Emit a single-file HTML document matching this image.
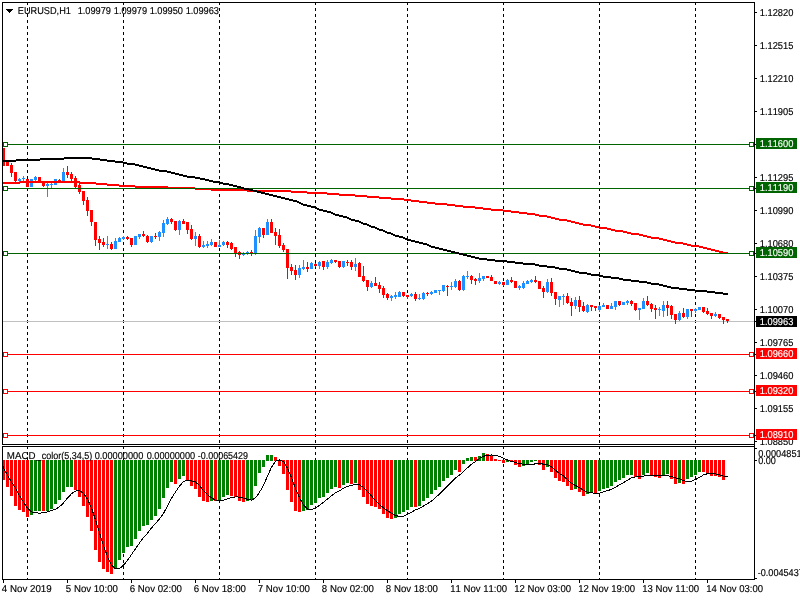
<!DOCTYPE html>
<html><head><meta charset="utf-8"><title>EURUSD,H1</title>
<style>
html,body{margin:0;padding:0;background:#fff;}
body{width:800px;height:600px;overflow:hidden;}
svg{display:block;}
text{font-family:"Liberation Sans",sans-serif;font-size:10px;font-kerning:none;text-rendering:geometricPrecision;stroke:#000;stroke-width:0.15px;fill:#000;}
.w{fill:#fff;stroke:#fff;}
</style></head><body>
<svg width="800" height="600" viewBox="0 0 800 600" shape-rendering="crispEdges">
<rect x="0" y="0" width="800" height="600" fill="#fff"/>
<g stroke="#000" stroke-width="1" stroke-dasharray="3,3">
<line x1="27.5" y1="2" x2="27.5" y2="444"/>
<line x1="27.5" y1="446" x2="27.5" y2="579"/>
<line x1="123.5" y1="2" x2="123.5" y2="444"/>
<line x1="123.5" y1="446" x2="123.5" y2="579"/>
<line x1="219.5" y1="2" x2="219.5" y2="444"/>
<line x1="219.5" y1="446" x2="219.5" y2="579"/>
<line x1="315.5" y1="2" x2="315.5" y2="444"/>
<line x1="315.5" y1="446" x2="315.5" y2="579"/>
<line x1="407.5" y1="2" x2="407.5" y2="444"/>
<line x1="407.5" y1="446" x2="407.5" y2="579"/>
<line x1="503.5" y1="2" x2="503.5" y2="444"/>
<line x1="503.5" y1="446" x2="503.5" y2="579"/>
<line x1="599.5" y1="2" x2="599.5" y2="444"/>
<line x1="599.5" y1="446" x2="599.5" y2="579"/>
<line x1="695.5" y1="2" x2="695.5" y2="444"/>
<line x1="695.5" y1="446" x2="695.5" y2="579"/>
</g>
<rect x="3" y="321" width="752" height="1" fill="#c0c0c0"/>
<g>
<rect x="3" y="148" width="2" height="18" fill="#ff0000"/>
<rect x="6" y="161" width="3" height="5" fill="#ff0000"/>
<rect x="11" y="163" width="1" height="14" fill="#ff0000"/><rect x="10" y="165" width="3" height="8" fill="#ff0000"/>
<rect x="15" y="172" width="1" height="10" fill="#ff0000"/><rect x="14" y="172" width="3" height="9" fill="#ff0000"/>
<rect x="19" y="178" width="1" height="4" fill="#1e90ff"/><rect x="18" y="179" width="3" height="2" fill="#1e90ff"/>
<rect x="23" y="176" width="1" height="5" fill="#1e90ff"/><rect x="22" y="178" width="3" height="1" fill="#1e90ff"/>
<rect x="26" y="179" width="3" height="8" fill="#ff0000"/>
<rect x="30" y="179" width="3" height="8" fill="#1e90ff"/>
<rect x="35" y="176" width="1" height="5" fill="#1e90ff"/><rect x="34" y="177" width="3" height="3" fill="#1e90ff"/>
<rect x="38" y="177" width="3" height="5" fill="#ff0000"/>
<rect x="43" y="181" width="1" height="6" fill="#ff0000"/><rect x="42" y="181" width="3" height="5" fill="#ff0000"/>
<rect x="47" y="183" width="1" height="14" fill="#1e90ff"/><rect x="46" y="184" width="3" height="2" fill="#1e90ff"/>
<rect x="51" y="183" width="1" height="5" fill="#1e90ff"/><rect x="50" y="184" width="3" height="1" fill="#1e90ff"/>
<rect x="54" y="179" width="3" height="6" fill="#1e90ff"/>
<rect x="59" y="179" width="1" height="3" fill="#ff0000"/><rect x="58" y="180" width="3" height="2" fill="#ff0000"/>
<rect x="63" y="168" width="1" height="13" fill="#1e90ff"/><rect x="62" y="172" width="3" height="9" fill="#1e90ff"/>
<rect x="67" y="166" width="1" height="12" fill="#ff0000"/><rect x="66" y="172" width="3" height="3" fill="#ff0000"/>
<rect x="71" y="172" width="1" height="11" fill="#ff0000"/><rect x="70" y="174" width="3" height="5" fill="#ff0000"/>
<rect x="75" y="176" width="1" height="12" fill="#ff0000"/><rect x="74" y="178" width="3" height="9" fill="#ff0000"/>
<rect x="79" y="182" width="1" height="12" fill="#ff0000"/><rect x="78" y="185" width="3" height="7" fill="#ff0000"/>
<rect x="83" y="191" width="1" height="14" fill="#ff0000"/><rect x="82" y="191" width="3" height="10" fill="#ff0000"/>
<rect x="87" y="197" width="1" height="19" fill="#ff0000"/><rect x="86" y="200" width="3" height="11" fill="#ff0000"/>
<rect x="91" y="210" width="1" height="16" fill="#ff0000"/><rect x="90" y="210" width="3" height="12" fill="#ff0000"/>
<rect x="95" y="222" width="1" height="24" fill="#ff0000"/><rect x="94" y="222" width="3" height="18" fill="#ff0000"/>
<rect x="99" y="236" width="1" height="14" fill="#ff0000"/><rect x="98" y="239" width="3" height="4" fill="#ff0000"/>
<rect x="103" y="238" width="1" height="9" fill="#ff0000"/><rect x="102" y="242" width="3" height="3" fill="#ff0000"/>
<rect x="107" y="236" width="1" height="13" fill="#1e90ff"/><rect x="106" y="244" width="3" height="1" fill="#1e90ff"/>
<rect x="111" y="242" width="1" height="8" fill="#ff0000"/><rect x="110" y="244" width="3" height="5" fill="#ff0000"/>
<rect x="115" y="238" width="1" height="11" fill="#1e90ff"/><rect x="114" y="241" width="3" height="8" fill="#1e90ff"/>
<rect x="119" y="237" width="1" height="5" fill="#1e90ff"/><rect x="118" y="238" width="3" height="4" fill="#1e90ff"/>
<rect x="123" y="236" width="1" height="4" fill="#1e90ff"/><rect x="122" y="237" width="3" height="2" fill="#1e90ff"/>
<rect x="127" y="236" width="1" height="4" fill="#ff0000"/><rect x="126" y="237" width="3" height="2" fill="#ff0000"/>
<rect x="131" y="238" width="1" height="9" fill="#ff0000"/><rect x="130" y="238" width="3" height="7" fill="#ff0000"/>
<rect x="134" y="236" width="3" height="9" fill="#1e90ff"/>
<rect x="139" y="234" width="1" height="5" fill="#1e90ff"/><rect x="138" y="234" width="3" height="3" fill="#1e90ff"/>
<rect x="143" y="231" width="1" height="6" fill="#ff0000"/><rect x="142" y="234" width="3" height="2" fill="#ff0000"/>
<rect x="147" y="235" width="1" height="8" fill="#ff0000"/><rect x="146" y="236" width="3" height="6" fill="#ff0000"/>
<rect x="151" y="236" width="1" height="7" fill="#1e90ff"/><rect x="150" y="236" width="3" height="6" fill="#1e90ff"/>
<rect x="155" y="233" width="1" height="6" fill="#ff0000"/><rect x="154" y="236" width="3" height="1" fill="#ff0000"/>
<rect x="159" y="231" width="1" height="10" fill="#1e90ff"/><rect x="158" y="232" width="3" height="5" fill="#1e90ff"/>
<rect x="163" y="220" width="1" height="17" fill="#1e90ff"/><rect x="162" y="223" width="3" height="10" fill="#1e90ff"/>
<rect x="167" y="217" width="1" height="8" fill="#1e90ff"/><rect x="166" y="219" width="3" height="5" fill="#1e90ff"/>
<rect x="171" y="218" width="1" height="6" fill="#ff0000"/><rect x="170" y="219" width="3" height="3" fill="#ff0000"/>
<rect x="175" y="221" width="1" height="10" fill="#ff0000"/><rect x="174" y="221" width="3" height="9" fill="#ff0000"/>
<rect x="179" y="220" width="1" height="15" fill="#1e90ff"/><rect x="178" y="221" width="3" height="9" fill="#1e90ff"/>
<rect x="183" y="219" width="1" height="5" fill="#ff0000"/><rect x="182" y="221" width="3" height="3" fill="#ff0000"/>
<rect x="187" y="222" width="1" height="12" fill="#ff0000"/><rect x="186" y="222" width="3" height="8" fill="#ff0000"/>
<rect x="191" y="225" width="1" height="15" fill="#ff0000"/><rect x="190" y="229" width="3" height="10" fill="#ff0000"/>
<rect x="195" y="232" width="1" height="14" fill="#1e90ff"/><rect x="194" y="236" width="3" height="3" fill="#1e90ff"/>
<rect x="199" y="234" width="1" height="14" fill="#ff0000"/><rect x="198" y="236" width="3" height="11" fill="#ff0000"/>
<rect x="203" y="241" width="1" height="7" fill="#1e90ff"/><rect x="202" y="245" width="3" height="2" fill="#1e90ff"/>
<rect x="207" y="241" width="1" height="7" fill="#1e90ff"/><rect x="206" y="244" width="3" height="2" fill="#1e90ff"/>
<rect x="211" y="239" width="1" height="7" fill="#1e90ff"/><rect x="210" y="242" width="3" height="3" fill="#1e90ff"/>
<rect x="214" y="242" width="3" height="5" fill="#ff0000"/>
<rect x="219" y="240" width="1" height="7" fill="#1e90ff"/><rect x="218" y="245" width="3" height="2" fill="#1e90ff"/>
<rect x="223" y="241" width="1" height="5" fill="#1e90ff"/><rect x="222" y="242" width="3" height="3" fill="#1e90ff"/>
<rect x="227" y="241" width="1" height="7" fill="#ff0000"/><rect x="226" y="242" width="3" height="3" fill="#ff0000"/>
<rect x="231" y="242" width="1" height="8" fill="#ff0000"/><rect x="230" y="243" width="3" height="6" fill="#ff0000"/>
<rect x="235" y="247" width="1" height="10" fill="#ff0000"/><rect x="234" y="247" width="3" height="6" fill="#ff0000"/>
<rect x="239" y="251" width="1" height="8" fill="#ff0000"/><rect x="238" y="252" width="3" height="3" fill="#ff0000"/>
<rect x="243" y="252" width="1" height="4" fill="#1e90ff"/><rect x="242" y="253" width="3" height="2" fill="#1e90ff"/>
<rect x="247" y="251" width="1" height="4" fill="#1e90ff"/><rect x="246" y="252" width="3" height="2" fill="#1e90ff"/>
<rect x="251" y="250" width="1" height="6" fill="#ff0000"/><rect x="250" y="252" width="3" height="1" fill="#ff0000"/>
<rect x="255" y="230" width="1" height="25" fill="#1e90ff"/><rect x="254" y="236" width="3" height="18" fill="#1e90ff"/>
<rect x="259" y="227" width="1" height="16" fill="#1e90ff"/><rect x="258" y="228" width="3" height="9" fill="#1e90ff"/>
<rect x="263" y="228" width="1" height="10" fill="#ff0000"/><rect x="262" y="228" width="3" height="7" fill="#ff0000"/>
<rect x="267" y="219" width="1" height="16" fill="#1e90ff"/><rect x="266" y="222" width="3" height="13" fill="#1e90ff"/>
<rect x="271" y="219" width="1" height="14" fill="#ff0000"/><rect x="270" y="222" width="3" height="11" fill="#ff0000"/>
<rect x="275" y="228" width="1" height="17" fill="#ff0000"/><rect x="274" y="232" width="3" height="4" fill="#ff0000"/>
<rect x="279" y="229" width="1" height="19" fill="#ff0000"/><rect x="278" y="235" width="3" height="11" fill="#ff0000"/>
<rect x="283" y="243" width="1" height="9" fill="#ff0000"/><rect x="282" y="245" width="3" height="5" fill="#ff0000"/>
<rect x="287" y="249" width="1" height="30" fill="#ff0000"/><rect x="286" y="249" width="3" height="19" fill="#ff0000"/>
<rect x="291" y="264" width="1" height="11" fill="#ff0000"/><rect x="290" y="267" width="3" height="4" fill="#ff0000"/>
<rect x="295" y="265" width="1" height="15" fill="#ff0000"/><rect x="294" y="270" width="3" height="5" fill="#ff0000"/>
<rect x="299" y="265" width="1" height="13" fill="#1e90ff"/><rect x="298" y="268" width="3" height="7" fill="#1e90ff"/>
<rect x="303" y="260" width="1" height="10" fill="#1e90ff"/><rect x="302" y="267" width="3" height="2" fill="#1e90ff"/>
<rect x="307" y="262" width="1" height="10" fill="#ff0000"/><rect x="306" y="267" width="3" height="2" fill="#ff0000"/>
<rect x="311" y="262" width="1" height="7" fill="#1e90ff"/><rect x="310" y="263" width="3" height="6" fill="#1e90ff"/>
<rect x="315" y="263" width="1" height="4" fill="#ff0000"/><rect x="314" y="264" width="3" height="2" fill="#ff0000"/>
<rect x="319" y="261" width="1" height="8" fill="#1e90ff"/><rect x="318" y="262" width="3" height="4" fill="#1e90ff"/>
<rect x="323" y="261" width="1" height="9" fill="#ff0000"/><rect x="322" y="261" width="3" height="6" fill="#ff0000"/>
<rect x="327" y="260" width="1" height="9" fill="#1e90ff"/><rect x="326" y="262" width="3" height="5" fill="#1e90ff"/>
<rect x="331" y="259" width="1" height="5" fill="#1e90ff"/><rect x="330" y="260" width="3" height="3" fill="#1e90ff"/>
<rect x="335" y="260" width="1" height="3" fill="#ff0000"/><rect x="334" y="260" width="3" height="2" fill="#ff0000"/>
<rect x="339" y="261" width="1" height="7" fill="#ff0000"/><rect x="338" y="261" width="3" height="6" fill="#ff0000"/>
<rect x="343" y="261" width="1" height="7" fill="#1e90ff"/><rect x="342" y="261" width="3" height="6" fill="#1e90ff"/>
<rect x="347" y="260" width="1" height="6" fill="#ff0000"/><rect x="346" y="262" width="3" height="1" fill="#ff0000"/>
<rect x="351" y="260" width="1" height="10" fill="#ff0000"/><rect x="350" y="262" width="3" height="5" fill="#ff0000"/>
<rect x="355" y="258" width="1" height="13" fill="#1e90ff"/><rect x="354" y="264" width="3" height="3" fill="#1e90ff"/>
<rect x="359" y="262" width="1" height="15" fill="#ff0000"/><rect x="358" y="263" width="3" height="14" fill="#ff0000"/>
<rect x="363" y="266" width="1" height="16" fill="#ff0000"/><rect x="362" y="276" width="3" height="5" fill="#ff0000"/>
<rect x="367" y="280" width="1" height="11" fill="#ff0000"/><rect x="366" y="280" width="3" height="7" fill="#ff0000"/>
<rect x="371" y="281" width="1" height="7" fill="#1e90ff"/><rect x="370" y="283" width="3" height="4" fill="#1e90ff"/>
<rect x="375" y="277" width="1" height="9" fill="#ff0000"/><rect x="374" y="283" width="3" height="3" fill="#ff0000"/>
<rect x="379" y="282" width="1" height="11" fill="#ff0000"/><rect x="378" y="285" width="3" height="4" fill="#ff0000"/>
<rect x="383" y="286" width="1" height="12" fill="#ff0000"/><rect x="382" y="288" width="3" height="7" fill="#ff0000"/>
<rect x="387" y="293" width="1" height="7" fill="#ff0000"/><rect x="386" y="294" width="3" height="4" fill="#ff0000"/>
<rect x="391" y="295" width="1" height="6" fill="#1e90ff"/><rect x="390" y="296" width="3" height="2" fill="#1e90ff"/>
<rect x="395" y="292" width="1" height="7" fill="#1e90ff"/><rect x="394" y="295" width="3" height="2" fill="#1e90ff"/>
<rect x="399" y="291" width="1" height="6" fill="#1e90ff"/><rect x="398" y="292" width="3" height="5" fill="#1e90ff"/>
<rect x="403" y="292" width="1" height="5" fill="#ff0000"/><rect x="402" y="292" width="3" height="4" fill="#ff0000"/>
<rect x="407" y="295" width="1" height="4" fill="#ff0000"/><rect x="406" y="295" width="3" height="2" fill="#ff0000"/>
<rect x="411" y="293" width="1" height="4" fill="#1e90ff"/><rect x="410" y="294" width="3" height="2" fill="#1e90ff"/>
<rect x="415" y="292" width="1" height="9" fill="#ff0000"/><rect x="414" y="294" width="3" height="5" fill="#ff0000"/>
<rect x="419" y="294" width="1" height="6" fill="#1e90ff"/><rect x="418" y="298" width="3" height="1" fill="#1e90ff"/>
<rect x="423" y="292" width="1" height="8" fill="#1e90ff"/><rect x="422" y="293" width="3" height="6" fill="#1e90ff"/>
<rect x="427" y="292" width="1" height="4" fill="#ff0000"/><rect x="426" y="293" width="3" height="1" fill="#ff0000"/>
<rect x="431" y="291" width="1" height="4" fill="#1e90ff"/><rect x="430" y="292" width="3" height="2" fill="#1e90ff"/>
<rect x="434" y="290" width="3" height="3" fill="#1e90ff"/>
<rect x="439" y="290" width="1" height="5" fill="#1e90ff"/><rect x="438" y="290" width="3" height="1" fill="#1e90ff"/>
<rect x="443" y="285" width="1" height="7" fill="#1e90ff"/><rect x="442" y="285" width="3" height="6" fill="#1e90ff"/>
<rect x="447" y="285" width="1" height="11" fill="#ff0000"/><rect x="446" y="286" width="3" height="1" fill="#ff0000"/>
<rect x="451" y="282" width="1" height="8" fill="#1e90ff"/><rect x="450" y="286" width="3" height="1" fill="#1e90ff"/>
<rect x="455" y="279" width="1" height="9" fill="#1e90ff"/><rect x="454" y="281" width="3" height="6" fill="#1e90ff"/>
<rect x="459" y="280" width="1" height="11" fill="#ff0000"/><rect x="458" y="281" width="3" height="9" fill="#ff0000"/>
<rect x="463" y="275" width="1" height="16" fill="#1e90ff"/><rect x="462" y="276" width="3" height="14" fill="#1e90ff"/>
<rect x="467" y="271" width="1" height="8" fill="#1e90ff"/><rect x="466" y="276" width="3" height="1" fill="#1e90ff"/>
<rect x="471" y="275" width="1" height="9" fill="#ff0000"/><rect x="470" y="276" width="3" height="4" fill="#ff0000"/>
<rect x="475" y="278" width="1" height="7" fill="#ff0000"/><rect x="474" y="279" width="3" height="2" fill="#ff0000"/>
<rect x="479" y="273" width="1" height="10" fill="#1e90ff"/><rect x="478" y="278" width="3" height="3" fill="#1e90ff"/>
<rect x="483" y="276" width="1" height="5" fill="#1e90ff"/><rect x="482" y="276" width="3" height="3" fill="#1e90ff"/>
<rect x="486" y="276" width="3" height="2" fill="#ff0000"/>
<rect x="491" y="275" width="1" height="6" fill="#ff0000"/><rect x="490" y="277" width="3" height="4" fill="#ff0000"/>
<rect x="494" y="281" width="3" height="3" fill="#ff0000"/>
<rect x="499" y="281" width="1" height="4" fill="#1e90ff"/><rect x="498" y="282" width="3" height="2" fill="#1e90ff"/>
<rect x="503" y="282" width="1" height="4" fill="#ff0000"/><rect x="502" y="282" width="3" height="3" fill="#ff0000"/>
<rect x="507" y="279" width="1" height="6" fill="#1e90ff"/><rect x="506" y="280" width="3" height="5" fill="#1e90ff"/>
<rect x="511" y="277" width="1" height="6" fill="#ff0000"/><rect x="510" y="280" width="3" height="2" fill="#ff0000"/>
<rect x="514" y="281" width="3" height="7" fill="#ff0000"/>
<rect x="519" y="285" width="1" height="5" fill="#1e90ff"/><rect x="518" y="286" width="3" height="2" fill="#1e90ff"/>
<rect x="523" y="281" width="1" height="8" fill="#1e90ff"/><rect x="522" y="283" width="3" height="5" fill="#1e90ff"/>
<rect x="527" y="280" width="1" height="4" fill="#1e90ff"/><rect x="526" y="281" width="3" height="3" fill="#1e90ff"/>
<rect x="531" y="279" width="1" height="4" fill="#1e90ff"/><rect x="530" y="280" width="3" height="2" fill="#1e90ff"/>
<rect x="535" y="276" width="1" height="7" fill="#ff0000"/><rect x="534" y="280" width="3" height="2" fill="#ff0000"/>
<rect x="538" y="281" width="3" height="8" fill="#ff0000"/>
<rect x="543" y="286" width="1" height="12" fill="#ff0000"/><rect x="542" y="288" width="3" height="4" fill="#ff0000"/>
<rect x="547" y="279" width="1" height="14" fill="#1e90ff"/><rect x="546" y="282" width="3" height="10" fill="#1e90ff"/>
<rect x="551" y="278" width="1" height="18" fill="#ff0000"/><rect x="550" y="282" width="3" height="11" fill="#ff0000"/>
<rect x="555" y="292" width="1" height="13" fill="#ff0000"/><rect x="554" y="292" width="3" height="7" fill="#ff0000"/>
<rect x="559" y="296" width="1" height="11" fill="#1e90ff"/><rect x="558" y="296" width="3" height="4" fill="#1e90ff"/>
<rect x="563" y="294" width="1" height="11" fill="#1e90ff"/><rect x="562" y="296" width="3" height="1" fill="#1e90ff"/>
<rect x="567" y="293" width="1" height="11" fill="#ff0000"/><rect x="566" y="296" width="3" height="7" fill="#ff0000"/>
<rect x="571" y="298" width="1" height="18" fill="#ff0000"/><rect x="570" y="302" width="3" height="4" fill="#ff0000"/>
<rect x="575" y="297" width="1" height="12" fill="#1e90ff"/><rect x="574" y="300" width="3" height="6" fill="#1e90ff"/>
<rect x="579" y="296" width="1" height="16" fill="#ff0000"/><rect x="578" y="300" width="3" height="7" fill="#ff0000"/>
<rect x="583" y="302" width="1" height="10" fill="#ff0000"/><rect x="582" y="306" width="3" height="5" fill="#ff0000"/>
<rect x="587" y="304" width="1" height="9" fill="#1e90ff"/><rect x="586" y="305" width="3" height="7" fill="#1e90ff"/>
<rect x="591" y="305" width="1" height="6" fill="#ff0000"/><rect x="590" y="305" width="3" height="2" fill="#ff0000"/>
<rect x="595" y="306" width="1" height="5" fill="#ff0000"/><rect x="594" y="306" width="3" height="2" fill="#ff0000"/>
<rect x="599" y="305" width="1" height="7" fill="#1e90ff"/><rect x="598" y="306" width="3" height="4" fill="#1e90ff"/>
<rect x="603" y="303" width="1" height="4" fill="#1e90ff"/><rect x="602" y="305" width="3" height="2" fill="#1e90ff"/>
<rect x="606" y="305" width="3" height="4" fill="#ff0000"/>
<rect x="611" y="303" width="1" height="6" fill="#1e90ff"/><rect x="610" y="306" width="3" height="3" fill="#1e90ff"/>
<rect x="615" y="301" width="1" height="9" fill="#1e90ff"/><rect x="614" y="301" width="3" height="6" fill="#1e90ff"/>
<rect x="619" y="301" width="1" height="5" fill="#ff0000"/><rect x="618" y="301" width="3" height="4" fill="#ff0000"/>
<rect x="622" y="302" width="3" height="3" fill="#1e90ff"/>
<rect x="627" y="300" width="1" height="5" fill="#1e90ff"/><rect x="626" y="301" width="3" height="2" fill="#1e90ff"/>
<rect x="631" y="300" width="1" height="6" fill="#ff0000"/><rect x="630" y="301" width="3" height="3" fill="#ff0000"/>
<rect x="635" y="303" width="1" height="8" fill="#ff0000"/><rect x="634" y="303" width="3" height="7" fill="#ff0000"/>
<rect x="639" y="308" width="1" height="12" fill="#1e90ff"/><rect x="638" y="308" width="3" height="2" fill="#1e90ff"/>
<rect x="643" y="298" width="1" height="11" fill="#1e90ff"/><rect x="642" y="301" width="3" height="8" fill="#1e90ff"/>
<rect x="647" y="296" width="1" height="10" fill="#ff0000"/><rect x="646" y="301" width="3" height="4" fill="#ff0000"/>
<rect x="651" y="303" width="1" height="9" fill="#ff0000"/><rect x="650" y="304" width="3" height="5" fill="#ff0000"/>
<rect x="655" y="305" width="1" height="14" fill="#ff0000"/><rect x="654" y="308" width="3" height="2" fill="#ff0000"/>
<rect x="659" y="307" width="1" height="9" fill="#1e90ff"/><rect x="658" y="309" width="3" height="1" fill="#1e90ff"/>
<rect x="663" y="301" width="1" height="16" fill="#1e90ff"/><rect x="662" y="305" width="3" height="6" fill="#1e90ff"/>
<rect x="667" y="301" width="1" height="15" fill="#ff0000"/><rect x="666" y="305" width="3" height="3" fill="#ff0000"/>
<rect x="671" y="305" width="1" height="14" fill="#ff0000"/><rect x="670" y="306" width="3" height="9" fill="#ff0000"/>
<rect x="675" y="314" width="1" height="10" fill="#ff0000"/><rect x="674" y="314" width="3" height="6" fill="#ff0000"/>
<rect x="679" y="311" width="1" height="10" fill="#1e90ff"/><rect x="678" y="313" width="3" height="7" fill="#1e90ff"/>
<rect x="683" y="308" width="1" height="10" fill="#ff0000"/><rect x="682" y="313" width="3" height="4" fill="#ff0000"/>
<rect x="687" y="309" width="1" height="10" fill="#1e90ff"/><rect x="686" y="309" width="3" height="8" fill="#1e90ff"/>
<rect x="691" y="309" width="1" height="8" fill="#ff0000"/><rect x="690" y="309" width="3" height="2" fill="#ff0000"/>
<rect x="695" y="308" width="1" height="5" fill="#1e90ff"/><rect x="694" y="309" width="3" height="2" fill="#1e90ff"/>
<rect x="698" y="307" width="3" height="3" fill="#1e90ff"/>
<rect x="703" y="307" width="1" height="6" fill="#ff0000"/><rect x="702" y="307" width="3" height="5" fill="#ff0000"/>
<rect x="707" y="308" width="1" height="7" fill="#ff0000"/><rect x="706" y="311" width="3" height="3" fill="#ff0000"/>
<rect x="711" y="313" width="1" height="6" fill="#ff0000"/><rect x="710" y="313" width="3" height="3" fill="#ff0000"/>
<rect x="715" y="312" width="1" height="5" fill="#1e90ff"/><rect x="714" y="314" width="3" height="2" fill="#1e90ff"/>
<rect x="719" y="314" width="1" height="5" fill="#ff0000"/><rect x="718" y="314" width="3" height="4" fill="#ff0000"/>
<rect x="723" y="317" width="1" height="7" fill="#ff0000"/><rect x="722" y="317" width="3" height="3" fill="#ff0000"/>
<rect x="727" y="319" width="1" height="4" fill="#ff0000"/><rect x="726" y="319" width="3" height="2" fill="#ff0000"/>
</g>
<rect x="3" y="182" width="17" height="2" fill="#ff0000"/><rect x="20" y="181" width="60" height="2" fill="#ff0000"/><rect x="80" y="182" width="16" height="2" fill="#ff0000"/><rect x="96" y="183" width="11" height="2" fill="#ff0000"/><rect x="107" y="184" width="12" height="2" fill="#ff0000"/><rect x="119" y="185" width="16" height="2" fill="#ff0000"/><rect x="135" y="186" width="33" height="2" fill="#ff0000"/><rect x="168" y="187" width="27" height="2" fill="#ff0000"/><rect x="195" y="188" width="16" height="2" fill="#ff0000"/><rect x="211" y="189" width="36" height="2" fill="#ff0000"/><rect x="247" y="190" width="44" height="2" fill="#ff0000"/><rect x="291" y="191" width="16" height="2" fill="#ff0000"/><rect x="307" y="192" width="20" height="2" fill="#ff0000"/><rect x="327" y="193" width="12" height="2" fill="#ff0000"/><rect x="339" y="194" width="16" height="2" fill="#ff0000"/><rect x="355" y="195" width="12" height="2" fill="#ff0000"/><rect x="367" y="196" width="12" height="2" fill="#ff0000"/><rect x="379" y="197" width="12" height="2" fill="#ff0000"/><rect x="391" y="198" width="13" height="2" fill="#ff0000"/><rect x="404" y="199" width="7" height="2" fill="#ff0000"/><rect x="411" y="200" width="8" height="2" fill="#ff0000"/><rect x="419" y="201" width="8" height="2" fill="#ff0000"/><rect x="427" y="202" width="8" height="2" fill="#ff0000"/><rect x="435" y="203" width="12" height="2" fill="#ff0000"/><rect x="447" y="204" width="8" height="2" fill="#ff0000"/><rect x="455" y="205" width="8" height="2" fill="#ff0000"/><rect x="463" y="206" width="12" height="2" fill="#ff0000"/><rect x="475" y="207" width="8" height="2" fill="#ff0000"/><rect x="483" y="208" width="8" height="2" fill="#ff0000"/><rect x="491" y="209" width="12" height="2" fill="#ff0000"/><rect x="503" y="210" width="8" height="2" fill="#ff0000"/><rect x="511" y="211" width="8" height="2" fill="#ff0000"/><rect x="519" y="212" width="8" height="2" fill="#ff0000"/><rect x="527" y="213" width="8" height="2" fill="#ff0000"/><rect x="535" y="214" width="4" height="2" fill="#ff0000"/><rect x="539" y="215" width="8" height="2" fill="#ff0000"/><rect x="547" y="216" width="4" height="2" fill="#ff0000"/><rect x="551" y="217" width="4" height="2" fill="#ff0000"/><rect x="555" y="218" width="4" height="2" fill="#ff0000"/><rect x="559" y="219" width="8" height="2" fill="#ff0000"/><rect x="567" y="220" width="4" height="2" fill="#ff0000"/><rect x="571" y="221" width="4" height="2" fill="#ff0000"/><rect x="575" y="222" width="4" height="2" fill="#ff0000"/><rect x="579" y="223" width="4" height="2" fill="#ff0000"/><rect x="583" y="224" width="8" height="2" fill="#ff0000"/><rect x="591" y="225" width="4" height="2" fill="#ff0000"/><rect x="595" y="226" width="4" height="2" fill="#ff0000"/><rect x="599" y="227" width="8" height="2" fill="#ff0000"/><rect x="607" y="228" width="4" height="2" fill="#ff0000"/><rect x="611" y="229" width="4" height="2" fill="#ff0000"/><rect x="615" y="230" width="8" height="2" fill="#ff0000"/><rect x="623" y="231" width="4" height="2" fill="#ff0000"/><rect x="627" y="232" width="4" height="2" fill="#ff0000"/><rect x="631" y="233" width="8" height="2" fill="#ff0000"/><rect x="639" y="234" width="4" height="2" fill="#ff0000"/><rect x="643" y="235" width="4" height="2" fill="#ff0000"/><rect x="647" y="236" width="4" height="2" fill="#ff0000"/><rect x="651" y="237" width="8" height="2" fill="#ff0000"/><rect x="659" y="238" width="4" height="2" fill="#ff0000"/><rect x="663" y="239" width="4" height="2" fill="#ff0000"/><rect x="667" y="240" width="4" height="2" fill="#ff0000"/><rect x="671" y="241" width="4" height="2" fill="#ff0000"/><rect x="675" y="242" width="8" height="2" fill="#ff0000"/><rect x="683" y="243" width="4" height="2" fill="#ff0000"/><rect x="687" y="244" width="4" height="2" fill="#ff0000"/><rect x="691" y="245" width="8" height="2" fill="#ff0000"/><rect x="699" y="246" width="4" height="2" fill="#ff0000"/><rect x="703" y="247" width="4" height="2" fill="#ff0000"/><rect x="707" y="248" width="4" height="2" fill="#ff0000"/><rect x="711" y="249" width="4" height="2" fill="#ff0000"/><rect x="715" y="250" width="4" height="2" fill="#ff0000"/><rect x="719" y="251" width="4" height="2" fill="#ff0000"/><rect x="723" y="252" width="5" height="2" fill="#ff0000"/>
<rect x="3" y="144" width="751" height="1" fill="#006400"/><rect x="3" y="142" width="5" height="5" fill="#006400"/><rect x="4" y="143" width="3" height="3" fill="#fff"/><rect x="749" y="142" width="5" height="5" fill="#006400"/><rect x="750" y="143" width="3" height="3" fill="#fff"/>
<rect x="3" y="188" width="751" height="1" fill="#006400"/><rect x="3" y="186" width="5" height="5" fill="#006400"/><rect x="4" y="187" width="3" height="3" fill="#fff"/><rect x="749" y="186" width="5" height="5" fill="#006400"/><rect x="750" y="187" width="3" height="3" fill="#fff"/>
<rect x="3" y="253" width="751" height="1" fill="#006400"/><rect x="3" y="251" width="5" height="5" fill="#006400"/><rect x="4" y="252" width="3" height="3" fill="#fff"/><rect x="749" y="251" width="5" height="5" fill="#006400"/><rect x="750" y="252" width="3" height="3" fill="#fff"/>
<rect x="3" y="354" width="751" height="1" fill="#ff0000"/><rect x="3" y="352" width="5" height="5" fill="#ff0000"/><rect x="4" y="353" width="3" height="3" fill="#fff"/><rect x="749" y="352" width="5" height="5" fill="#ff0000"/><rect x="750" y="353" width="3" height="3" fill="#fff"/>
<rect x="3" y="391" width="751" height="1" fill="#ff0000"/><rect x="3" y="389" width="5" height="5" fill="#ff0000"/><rect x="4" y="390" width="3" height="3" fill="#fff"/><rect x="749" y="389" width="5" height="5" fill="#ff0000"/><rect x="750" y="390" width="3" height="3" fill="#fff"/>
<rect x="3" y="435" width="751" height="1" fill="#ff0000"/><rect x="3" y="433" width="5" height="5" fill="#ff0000"/><rect x="4" y="434" width="3" height="3" fill="#fff"/><rect x="749" y="433" width="5" height="5" fill="#ff0000"/><rect x="750" y="434" width="3" height="3" fill="#fff"/>
<rect x="3" y="160" width="13" height="2" fill="#000"/><rect x="16" y="159" width="24" height="2" fill="#000"/><rect x="40" y="158" width="24" height="2" fill="#000"/><rect x="64" y="157" width="28" height="2" fill="#000"/><rect x="92" y="158" width="8" height="2" fill="#000"/><rect x="100" y="159" width="7" height="2" fill="#000"/><rect x="107" y="160" width="8" height="2" fill="#000"/><rect x="115" y="161" width="8" height="2" fill="#000"/><rect x="123" y="162" width="4" height="2" fill="#000"/><rect x="127" y="163" width="8" height="2" fill="#000"/><rect x="135" y="164" width="4" height="2" fill="#000"/><rect x="139" y="165" width="4" height="2" fill="#000"/><rect x="143" y="166" width="4" height="2" fill="#000"/><rect x="147" y="167" width="4" height="2" fill="#000"/><rect x="151" y="168" width="4" height="2" fill="#000"/><rect x="155" y="169" width="4" height="2" fill="#000"/><rect x="159" y="170" width="8" height="2" fill="#000"/><rect x="167" y="171" width="4" height="2" fill="#000"/><rect x="171" y="172" width="4" height="2" fill="#000"/><rect x="175" y="173" width="4" height="2" fill="#000"/><rect x="179" y="174" width="4" height="2" fill="#000"/><rect x="183" y="175" width="4" height="2" fill="#000"/><rect x="187" y="176" width="8" height="2" fill="#000"/><rect x="195" y="177" width="5" height="2" fill="#000"/><rect x="200" y="178" width="5" height="2" fill="#000"/><rect x="205" y="179" width="4" height="2" fill="#000"/><rect x="209" y="180" width="4" height="2" fill="#000"/><rect x="213" y="181" width="7" height="2" fill="#000"/><rect x="220" y="182" width="3" height="2" fill="#000"/><rect x="223" y="183" width="6" height="2" fill="#000"/><rect x="229" y="184" width="4" height="2" fill="#000"/><rect x="233" y="185" width="4" height="2" fill="#000"/><rect x="237" y="186" width="4" height="2" fill="#000"/><rect x="241" y="187" width="3" height="2" fill="#000"/><rect x="244" y="188" width="5" height="2" fill="#000"/><rect x="249" y="189" width="4" height="2" fill="#000"/><rect x="253" y="190" width="4" height="2" fill="#000"/><rect x="257" y="191" width="4" height="2" fill="#000"/><rect x="261" y="192" width="4" height="2" fill="#000"/><rect x="265" y="193" width="4" height="2" fill="#000"/><rect x="269" y="194" width="4" height="2" fill="#000"/><rect x="273" y="195" width="4" height="2" fill="#000"/><rect x="277" y="196" width="4" height="2" fill="#000"/><rect x="281" y="197" width="4" height="2" fill="#000"/><rect x="285" y="198" width="4" height="2" fill="#000"/><rect x="289" y="199" width="4" height="2" fill="#000"/><rect x="293" y="200" width="4" height="2" fill="#000"/><rect x="297" y="201" width="2" height="2" fill="#000"/><rect x="299" y="202" width="2" height="2" fill="#000"/><rect x="301" y="203" width="2" height="2" fill="#000"/><rect x="303" y="204" width="4" height="2" fill="#000"/><rect x="307" y="205" width="4" height="2" fill="#000"/><rect x="311" y="206" width="4" height="2" fill="#000"/><rect x="315" y="207" width="2" height="2" fill="#000"/><rect x="317" y="208" width="2" height="2" fill="#000"/><rect x="319" y="209" width="4" height="2" fill="#000"/><rect x="323" y="210" width="4" height="2" fill="#000"/><rect x="327" y="211" width="4" height="2" fill="#000"/><rect x="331" y="212" width="2" height="2" fill="#000"/><rect x="333" y="213" width="2" height="2" fill="#000"/><rect x="335" y="214" width="4" height="2" fill="#000"/><rect x="339" y="215" width="4" height="2" fill="#000"/><rect x="343" y="216" width="4" height="2" fill="#000"/><rect x="347" y="217" width="2" height="2" fill="#000"/><rect x="349" y="218" width="2" height="2" fill="#000"/><rect x="351" y="219" width="4" height="2" fill="#000"/><rect x="355" y="220" width="4" height="2" fill="#000"/><rect x="359" y="221" width="2" height="2" fill="#000"/><rect x="361" y="222" width="2" height="2" fill="#000"/><rect x="363" y="223" width="4" height="2" fill="#000"/><rect x="367" y="224" width="2" height="2" fill="#000"/><rect x="369" y="225" width="2" height="2" fill="#000"/><rect x="371" y="226" width="4" height="2" fill="#000"/><rect x="375" y="227" width="2" height="2" fill="#000"/><rect x="377" y="228" width="2" height="2" fill="#000"/><rect x="379" y="229" width="4" height="2" fill="#000"/><rect x="383" y="230" width="2" height="2" fill="#000"/><rect x="385" y="231" width="2" height="2" fill="#000"/><rect x="387" y="232" width="4" height="2" fill="#000"/><rect x="391" y="233" width="2" height="2" fill="#000"/><rect x="393" y="234" width="2" height="2" fill="#000"/><rect x="395" y="235" width="4" height="2" fill="#000"/><rect x="399" y="236" width="4" height="2" fill="#000"/><rect x="403" y="237" width="2" height="2" fill="#000"/><rect x="405" y="238" width="2" height="2" fill="#000"/><rect x="407" y="239" width="4" height="2" fill="#000"/><rect x="411" y="240" width="4" height="2" fill="#000"/><rect x="415" y="241" width="4" height="2" fill="#000"/><rect x="419" y="242" width="4" height="2" fill="#000"/><rect x="423" y="243" width="4" height="2" fill="#000"/><rect x="427" y="244" width="2" height="2" fill="#000"/><rect x="429" y="245" width="2" height="2" fill="#000"/><rect x="431" y="246" width="4" height="2" fill="#000"/><rect x="435" y="247" width="4" height="2" fill="#000"/><rect x="439" y="248" width="4" height="2" fill="#000"/><rect x="443" y="249" width="4" height="2" fill="#000"/><rect x="447" y="250" width="4" height="2" fill="#000"/><rect x="451" y="251" width="4" height="2" fill="#000"/><rect x="455" y="252" width="4" height="2" fill="#000"/><rect x="459" y="253" width="4" height="2" fill="#000"/><rect x="463" y="254" width="4" height="2" fill="#000"/><rect x="467" y="255" width="4" height="2" fill="#000"/><rect x="471" y="256" width="4" height="2" fill="#000"/><rect x="475" y="257" width="4" height="2" fill="#000"/><rect x="479" y="258" width="8" height="2" fill="#000"/><rect x="487" y="259" width="8" height="2" fill="#000"/><rect x="495" y="260" width="12" height="2" fill="#000"/><rect x="507" y="261" width="8" height="2" fill="#000"/><rect x="515" y="262" width="8" height="2" fill="#000"/><rect x="523" y="263" width="12" height="2" fill="#000"/><rect x="535" y="264" width="4" height="2" fill="#000"/><rect x="539" y="265" width="8" height="2" fill="#000"/><rect x="547" y="266" width="8" height="2" fill="#000"/><rect x="555" y="267" width="4" height="2" fill="#000"/><rect x="559" y="268" width="8" height="2" fill="#000"/><rect x="567" y="269" width="4" height="2" fill="#000"/><rect x="571" y="270" width="4" height="2" fill="#000"/><rect x="575" y="271" width="4" height="2" fill="#000"/><rect x="579" y="272" width="8" height="2" fill="#000"/><rect x="587" y="273" width="4" height="2" fill="#000"/><rect x="591" y="274" width="8" height="2" fill="#000"/><rect x="599" y="275" width="4" height="2" fill="#000"/><rect x="603" y="276" width="8" height="2" fill="#000"/><rect x="611" y="277" width="8" height="2" fill="#000"/><rect x="619" y="278" width="4" height="2" fill="#000"/><rect x="623" y="279" width="8" height="2" fill="#000"/><rect x="631" y="280" width="8" height="2" fill="#000"/><rect x="639" y="281" width="8" height="2" fill="#000"/><rect x="647" y="282" width="4" height="2" fill="#000"/><rect x="651" y="283" width="8" height="2" fill="#000"/><rect x="659" y="284" width="4" height="2" fill="#000"/><rect x="663" y="285" width="4" height="2" fill="#000"/><rect x="667" y="286" width="4" height="2" fill="#000"/><rect x="671" y="287" width="8" height="2" fill="#000"/><rect x="679" y="288" width="8" height="2" fill="#000"/><rect x="687" y="289" width="8" height="2" fill="#000"/><rect x="695" y="290" width="12" height="2" fill="#000"/><rect x="707" y="291" width="8" height="2" fill="#000"/><rect x="715" y="292" width="8" height="2" fill="#000"/><rect x="723" y="293" width="5" height="2" fill="#000"/>
<g>
<rect x="3" y="460" width="2" height="20" fill="#ff0000"/><rect x="6" y="460" width="3" height="27" fill="#ff0000"/><rect x="10" y="460" width="3" height="36" fill="#ff0000"/><rect x="14" y="460" width="3" height="46" fill="#ff0000"/><rect x="18" y="460" width="3" height="50" fill="#ff0000"/><rect x="22" y="460" width="3" height="52" fill="#ff0000"/><rect x="26" y="460" width="3" height="57" fill="#ff0000"/><rect x="30" y="460" width="3" height="55" fill="#008000"/><rect x="34" y="460" width="3" height="51" fill="#008000"/><rect x="38" y="460" width="3" height="51" fill="#008000"/><rect x="42" y="460" width="3" height="51" fill="#ff0000"/><rect x="46" y="460" width="3" height="51" fill="#008000"/><rect x="50" y="460" width="3" height="49" fill="#008000"/><rect x="54" y="460" width="3" height="44" fill="#008000"/><rect x="58" y="460" width="3" height="40" fill="#008000"/><rect x="62" y="460" width="3" height="32" fill="#008000"/><rect x="66" y="460" width="3" height="27" fill="#008000"/><rect x="70" y="460" width="3" height="27" fill="#008000"/><rect x="74" y="460" width="3" height="30" fill="#ff0000"/><rect x="78" y="460" width="3" height="37" fill="#ff0000"/><rect x="82" y="460" width="3" height="46" fill="#ff0000"/><rect x="86" y="460" width="3" height="57" fill="#ff0000"/><rect x="90" y="460" width="3" height="71" fill="#ff0000"/><rect x="94" y="460" width="3" height="90" fill="#ff0000"/><rect x="98" y="460" width="3" height="102" fill="#ff0000"/><rect x="102" y="460" width="3" height="109" fill="#ff0000"/><rect x="106" y="460" width="3" height="112" fill="#ff0000"/><rect x="110" y="460" width="3" height="114" fill="#ff0000"/><rect x="114" y="460" width="3" height="108" fill="#008000"/><rect x="118" y="460" width="3" height="100" fill="#008000"/><rect x="122" y="460" width="3" height="93" fill="#008000"/><rect x="126" y="460" width="3" height="87" fill="#008000"/><rect x="130" y="460" width="3" height="86" fill="#008000"/><rect x="134" y="460" width="3" height="79" fill="#008000"/><rect x="138" y="460" width="3" height="71" fill="#008000"/><rect x="142" y="460" width="3" height="66" fill="#008000"/><rect x="146" y="460" width="3" height="65" fill="#008000"/><rect x="150" y="460" width="3" height="60" fill="#008000"/><rect x="154" y="460" width="3" height="56" fill="#008000"/><rect x="158" y="460" width="3" height="49" fill="#008000"/><rect x="162" y="460" width="3" height="38" fill="#008000"/><rect x="166" y="460" width="3" height="28" fill="#008000"/><rect x="170" y="460" width="3" height="22" fill="#008000"/><rect x="174" y="460" width="3" height="24" fill="#ff0000"/><rect x="178" y="460" width="3" height="19" fill="#008000"/><rect x="182" y="460" width="3" height="16" fill="#008000"/><rect x="186" y="460" width="3" height="21" fill="#ff0000"/><rect x="190" y="460" width="3" height="26" fill="#ff0000"/><rect x="194" y="460" width="3" height="29" fill="#ff0000"/><rect x="198" y="460" width="3" height="37" fill="#ff0000"/><rect x="202" y="460" width="3" height="41" fill="#ff0000"/><rect x="206" y="460" width="3" height="42" fill="#ff0000"/><rect x="210" y="460" width="3" height="41" fill="#008000"/><rect x="214" y="460" width="3" height="41" fill="#ff0000"/><rect x="218" y="460" width="3" height="40" fill="#008000"/><rect x="222" y="460" width="3" height="37" fill="#008000"/><rect x="226" y="460" width="3" height="35" fill="#008000"/><rect x="230" y="460" width="3" height="36" fill="#ff0000"/><rect x="234" y="460" width="3" height="37" fill="#ff0000"/><rect x="238" y="460" width="3" height="41" fill="#ff0000"/><rect x="242" y="460" width="3" height="42" fill="#ff0000"/><rect x="246" y="460" width="3" height="41" fill="#008000"/><rect x="250" y="460" width="3" height="40" fill="#008000"/><rect x="254" y="460" width="3" height="26" fill="#008000"/><rect x="258" y="460" width="3" height="13" fill="#008000"/><rect x="262" y="460" width="3" height="7" fill="#008000"/><rect x="266" y="455" width="3" height="6" fill="#008000"/><rect x="270" y="455" width="3" height="6" fill="#008000"/><rect x="274" y="457" width="3" height="4" fill="#ff0000"/><rect x="278" y="460" width="3" height="6" fill="#ff0000"/><rect x="282" y="460" width="3" height="14" fill="#ff0000"/><rect x="286" y="460" width="3" height="30" fill="#ff0000"/><rect x="290" y="460" width="3" height="42" fill="#ff0000"/><rect x="294" y="460" width="3" height="51" fill="#ff0000"/><rect x="298" y="460" width="3" height="52" fill="#ff0000"/><rect x="302" y="460" width="3" height="51" fill="#008000"/><rect x="306" y="460" width="3" height="50" fill="#008000"/><rect x="310" y="460" width="3" height="45" fill="#008000"/><rect x="314" y="460" width="3" height="43" fill="#008000"/><rect x="318" y="460" width="3" height="38" fill="#008000"/><rect x="322" y="460" width="3" height="37" fill="#008000"/><rect x="326" y="460" width="3" height="33" fill="#008000"/><rect x="330" y="460" width="3" height="29" fill="#008000"/><rect x="334" y="460" width="3" height="27" fill="#008000"/><rect x="338" y="460" width="3" height="28" fill="#ff0000"/><rect x="342" y="460" width="3" height="25" fill="#008000"/><rect x="346" y="460" width="3" height="23" fill="#008000"/><rect x="350" y="460" width="3" height="24" fill="#ff0000"/><rect x="354" y="460" width="3" height="23" fill="#008000"/><rect x="358" y="460" width="3" height="30" fill="#ff0000"/><rect x="362" y="460" width="3" height="37" fill="#ff0000"/><rect x="366" y="460" width="3" height="44" fill="#ff0000"/><rect x="370" y="460" width="3" height="46" fill="#ff0000"/><rect x="374" y="460" width="3" height="47" fill="#ff0000"/><rect x="378" y="460" width="3" height="49" fill="#ff0000"/><rect x="382" y="460" width="3" height="54" fill="#ff0000"/><rect x="386" y="460" width="3" height="58" fill="#ff0000"/><rect x="390" y="460" width="3" height="59" fill="#ff0000"/><rect x="394" y="460" width="3" height="58" fill="#008000"/><rect x="398" y="460" width="3" height="54" fill="#008000"/><rect x="402" y="460" width="3" height="52" fill="#008000"/><rect x="406" y="460" width="3" height="50" fill="#008000"/><rect x="410" y="460" width="3" height="47" fill="#008000"/><rect x="414" y="460" width="3" height="47" fill="#ff0000"/><rect x="418" y="460" width="3" height="46" fill="#008000"/><rect x="422" y="460" width="3" height="41" fill="#008000"/><rect x="426" y="460" width="3" height="38" fill="#008000"/><rect x="430" y="460" width="3" height="34" fill="#008000"/><rect x="434" y="460" width="3" height="30" fill="#008000"/><rect x="438" y="460" width="3" height="27" fill="#008000"/><rect x="442" y="460" width="3" height="21" fill="#008000"/><rect x="446" y="460" width="3" height="18" fill="#008000"/><rect x="450" y="460" width="3" height="15" fill="#008000"/><rect x="454" y="460" width="3" height="10" fill="#008000"/><rect x="458" y="460" width="3" height="12" fill="#ff0000"/><rect x="462" y="460" width="3" height="4" fill="#008000"/><rect x="466" y="458" width="3" height="3" fill="#008000"/><rect x="470" y="457" width="3" height="4" fill="#008000"/><rect x="474" y="457" width="3" height="4" fill="#ff0000"/><rect x="478" y="456" width="3" height="5" fill="#008000"/><rect x="482" y="453" width="3" height="8" fill="#008000"/><rect x="486" y="454" width="3" height="7" fill="#ff0000"/><rect x="490" y="455" width="3" height="6" fill="#ff0000"/><rect x="494" y="459" width="3" height="2" fill="#ff0000"/><rect x="498" y="460" width="3" height="1" fill="#ff0000"/><rect x="502" y="460" width="3" height="3" fill="#ff0000"/><rect x="506" y="460" width="3" height="2" fill="#008000"/><rect x="510" y="460" width="3" height="2" fill="#ff0000"/><rect x="514" y="460" width="3" height="5" fill="#ff0000"/><rect x="518" y="460" width="3" height="7" fill="#ff0000"/><rect x="522" y="460" width="3" height="6" fill="#008000"/><rect x="526" y="460" width="3" height="4" fill="#008000"/><rect x="530" y="460" width="3" height="2" fill="#008000"/><rect x="534" y="460" width="3" height="1" fill="#008000"/><rect x="538" y="460" width="3" height="5" fill="#ff0000"/><rect x="542" y="460" width="3" height="10" fill="#ff0000"/><rect x="546" y="460" width="3" height="7" fill="#008000"/><rect x="550" y="460" width="3" height="12" fill="#ff0000"/><rect x="554" y="460" width="3" height="18" fill="#ff0000"/><rect x="558" y="460" width="3" height="21" fill="#ff0000"/><rect x="562" y="460" width="3" height="22" fill="#ff0000"/><rect x="566" y="460" width="3" height="26" fill="#ff0000"/><rect x="570" y="460" width="3" height="30" fill="#ff0000"/><rect x="574" y="460" width="3" height="29" fill="#008000"/><rect x="578" y="460" width="3" height="32" fill="#ff0000"/><rect x="582" y="460" width="3" height="36" fill="#ff0000"/><rect x="586" y="460" width="3" height="34" fill="#008000"/><rect x="590" y="460" width="3" height="33" fill="#008000"/><rect x="594" y="460" width="3" height="33" fill="#ff0000"/><rect x="598" y="460" width="3" height="31" fill="#008000"/><rect x="602" y="460" width="3" height="29" fill="#008000"/><rect x="606" y="460" width="3" height="28" fill="#008000"/><rect x="610" y="460" width="3" height="26" fill="#008000"/><rect x="614" y="460" width="3" height="22" fill="#008000"/><rect x="618" y="460" width="3" height="20" fill="#008000"/><rect x="622" y="460" width="3" height="18" fill="#008000"/><rect x="626" y="460" width="3" height="15" fill="#008000"/><rect x="630" y="460" width="3" height="15" fill="#008000"/><rect x="634" y="460" width="3" height="17" fill="#ff0000"/><rect x="638" y="460" width="3" height="19" fill="#ff0000"/><rect x="642" y="460" width="3" height="15" fill="#008000"/><rect x="646" y="460" width="3" height="13" fill="#008000"/><rect x="650" y="460" width="3" height="15" fill="#ff0000"/><rect x="654" y="460" width="3" height="17" fill="#ff0000"/><rect x="658" y="460" width="3" height="18" fill="#ff0000"/><rect x="662" y="460" width="3" height="15" fill="#008000"/><rect x="666" y="460" width="3" height="14" fill="#008000"/><rect x="670" y="460" width="3" height="19" fill="#ff0000"/><rect x="674" y="460" width="3" height="24" fill="#ff0000"/><rect x="678" y="460" width="3" height="23" fill="#008000"/><rect x="682" y="460" width="3" height="24" fill="#ff0000"/><rect x="686" y="460" width="3" height="19" fill="#008000"/><rect x="690" y="460" width="3" height="17" fill="#008000"/><rect x="694" y="460" width="3" height="15" fill="#008000"/><rect x="698" y="460" width="3" height="12" fill="#008000"/><rect x="702" y="460" width="3" height="12" fill="#ff0000"/><rect x="706" y="460" width="3" height="13" fill="#ff0000"/><rect x="710" y="460" width="3" height="16" fill="#ff0000"/><rect x="714" y="460" width="3" height="16" fill="#ff0000"/><rect x="718" y="460" width="3" height="17" fill="#ff0000"/><rect x="722" y="460" width="3" height="20" fill="#ff0000"/>
</g>
<polyline points="2.5,465.0 3.5,468.0 7.5,475.0 11.5,482.0 15.5,488.1 19.5,495.7 23.5,502.1 27.5,508.1 31.5,511.8 35.5,512.9 39.5,513.1 43.5,512.9 47.5,511.8 51.5,510.5 55.5,509.1 59.5,506.8 63.5,502.9 67.5,498.1 71.5,493.7 75.5,491.1 79.5,490.5 83.5,493.3 87.5,499.2 91.5,508.0 95.5,519.9 99.5,532.9 103.5,545.5 107.5,556.6 111.5,565.2 115.5,568.9 119.5,568.5 123.5,565.3 127.5,560.3 131.5,554.6 135.5,548.7 139.5,543.0 143.5,537.6 147.5,533.2 151.5,528.0 155.5,523.4 159.5,519.0 163.5,513.4 167.5,505.9 171.5,498.3 175.5,492.0 179.5,486.0 183.5,481.6 187.5,480.2 191.5,481.0 195.5,482.0 199.5,485.6 203.5,490.6 207.5,494.8 211.5,497.8 215.5,500.2 219.5,500.9 223.5,500.1 227.5,498.7 231.5,497.7 235.5,496.9 239.5,497.1 243.5,498.1 247.5,499.3 251.5,500.1 255.5,497.9 259.5,492.3 263.5,485.3 267.5,476.1 271.5,467.1 275.5,461.3 279.5,460.0 283.5,461.4 287.5,468.3 291.5,477.7 295.5,488.5 299.5,497.7 303.5,505.1 307.5,509.1 311.5,509.6 315.5,508.0 319.5,505.2 323.5,502.4 327.5,499.0 331.5,495.8 335.5,492.6 339.5,490.7 343.5,488.3 347.5,486.3 351.5,485.3 355.5,484.5 359.5,484.9 363.5,487.3 367.5,491.5 371.5,495.9 375.5,500.7 379.5,504.5 383.5,507.9 387.5,510.7 391.5,513.3 395.5,515.5 399.5,516.5 403.5,516.1 407.5,514.5 411.5,512.1 415.5,509.9 419.5,508.3 423.5,506.1 427.5,503.7 431.5,501.1 435.5,497.7 439.5,493.9 443.5,489.9 447.5,485.9 451.5,482.1 455.5,478.1 459.5,475.1 463.5,471.7 467.5,467.8 471.5,464.2 475.5,461.6 479.5,458.4 483.5,456.2 487.5,455.4 491.5,455.0 495.5,455.4 499.5,456.4 503.5,458.4 507.5,460.0 511.5,461.4 515.5,462.5 519.5,463.7 523.5,464.3 527.5,464.7 531.5,464.6 535.5,463.8 539.5,463.4 543.5,464.2 547.5,464.8 551.5,466.9 555.5,470.3 559.5,473.5 563.5,475.9 567.5,479.7 571.5,483.3 575.5,485.5 579.5,487.7 583.5,490.5 587.5,492.1 591.5,492.7 595.5,493.5 599.5,493.3 603.5,491.8 607.5,490.7 611.5,489.3 615.5,487.1 619.5,484.9 623.5,482.7 627.5,480.1 631.5,477.9 635.5,476.9 639.5,476.7 643.5,476.1 647.5,475.7 651.5,475.7 655.5,475.7 659.5,475.5 663.5,475.5 667.5,475.7 671.5,476.5 675.5,477.9 679.5,478.9 683.5,480.7 687.5,481.7 691.5,481.3 695.5,479.5 699.5,477.3 703.5,474.9 707.5,473.7 711.5,473.5 715.5,473.8 719.5,474.7 723.5,476.3 727.5,476.8" fill="none" stroke="#000" stroke-width="1"/>
<g fill="#000">
<rect x="2" y="2" width="753" height="1"/><rect x="2" y="2" width="1" height="443"/><rect x="2" y="444" width="753" height="1"/><rect x="2" y="446" width="753" height="1"/><rect x="2" y="446" width="1" height="134"/><rect x="2" y="579" width="753" height="1"/><rect x="754" y="2" width="1" height="578"/>
<rect x="755" y="12" width="2" height="1"/><rect x="755" y="45" width="2" height="1"/><rect x="755" y="78" width="2" height="1"/><rect x="755" y="111" width="2" height="1"/><rect x="755" y="144" width="2" height="1"/><rect x="755" y="177" width="2" height="1"/><rect x="755" y="210" width="2" height="1"/><rect x="755" y="243" width="2" height="1"/><rect x="755" y="276" width="2" height="1"/><rect x="755" y="309" width="2" height="1"/><rect x="755" y="342" width="2" height="1"/><rect x="755" y="375" width="2" height="1"/><rect x="755" y="408" width="2" height="1"/><rect x="755" y="441" width="2" height="1"/><rect x="755" y="144" width="1" height="1"/><rect x="755" y="188" width="1" height="1"/><rect x="755" y="253" width="1" height="1"/><rect x="755" y="321" width="1" height="1"/><rect x="755" y="354" width="1" height="1"/><rect x="755" y="391" width="1" height="1"/><rect x="755" y="435" width="1" height="1"/><rect x="755" y="448" width="2" height="1"/><rect x="755" y="460" width="2" height="1"/><rect x="755" y="578" width="2" height="1"/><rect x="3" y="580" width="1" height="3"/><rect x="67" y="580" width="1" height="3"/><rect x="131" y="580" width="1" height="3"/><rect x="195" y="580" width="1" height="3"/><rect x="259" y="580" width="1" height="3"/><rect x="323" y="580" width="1" height="3"/><rect x="387" y="580" width="1" height="3"/><rect x="451" y="580" width="1" height="3"/><rect x="515" y="580" width="1" height="3"/><rect x="579" y="580" width="1" height="3"/><rect x="643" y="580" width="1" height="3"/><rect x="707" y="580" width="1" height="3"/>
</g>
<rect x="6" y="9" width="7" height="1"/><rect x="7" y="10" width="5" height="1"/><rect x="8" y="11" width="3" height="1"/><rect x="9" y="12" width="1" height="1"/>
<g><text x="17.76" y="14" textLength="53.19" lengthAdjust="spacingAndGlyphs">EURUSD,H1</text><text x="77.66" y="14" textLength="33.35" lengthAdjust="spacingAndGlyphs">1.09979</text><text x="113.76" y="14" textLength="33.35" lengthAdjust="spacingAndGlyphs">1.09979</text><text x="149.66" y="14" textLength="33.35" lengthAdjust="spacingAndGlyphs">1.09950</text><text x="185.66" y="14" textLength="33.35" lengthAdjust="spacingAndGlyphs">1.09963</text><text x="6.82" y="459" textLength="28.61" lengthAdjust="spacingAndGlyphs">MACD</text><text x="36.18" y="459" textLength="5.00" lengthAdjust="spacingAndGlyphs">_</text><text x="41.64" y="459" textLength="50.54" lengthAdjust="spacingAndGlyphs">color(5,34,5)</text><text x="94.63" y="459" textLength="48.77" lengthAdjust="spacingAndGlyphs">0.00000000</text><text x="146.63" y="459" textLength="48.57" lengthAdjust="spacingAndGlyphs">0.00000000</text><text x="197.84" y="459" textLength="50.17" lengthAdjust="spacingAndGlyphs">-0.00065429</text><text x="758.13" y="457" textLength="43.50" lengthAdjust="spacingAndGlyphs">0.0004851</text><text x="758.14" y="464" textLength="17.69" lengthAdjust="spacingAndGlyphs">0.00</text><text x="757.74" y="576" textLength="46.02" lengthAdjust="spacingAndGlyphs">-0.0045437</text><text x="1.80" y="592" textLength="49.88" lengthAdjust="spacingAndGlyphs">4 Nov 2019</text><text x="65.86" y="592" textLength="52.05" lengthAdjust="spacingAndGlyphs">5 Nov 10:00</text><text x="129.77" y="592" textLength="52.15" lengthAdjust="spacingAndGlyphs">6 Nov 02:00</text><text x="193.77" y="592" textLength="52.15" lengthAdjust="spacingAndGlyphs">6 Nov 18:00</text><text x="257.77" y="592" textLength="52.15" lengthAdjust="spacingAndGlyphs">7 Nov 10:00</text><text x="321.86" y="592" textLength="52.05" lengthAdjust="spacingAndGlyphs">8 Nov 02:00</text><text x="385.86" y="592" textLength="52.05" lengthAdjust="spacingAndGlyphs">8 Nov 18:00</text><text x="450.24" y="592" textLength="56.83" lengthAdjust="spacingAndGlyphs">11 Nov 11:00</text><text x="514.24" y="592" textLength="56.83" lengthAdjust="spacingAndGlyphs">12 Nov 03:00</text><text x="578.24" y="592" textLength="56.83" lengthAdjust="spacingAndGlyphs">12 Nov 19:00</text><text x="642.24" y="592" textLength="56.83" lengthAdjust="spacingAndGlyphs">13 Nov 11:00</text><text x="706.24" y="592" textLength="56.83" lengthAdjust="spacingAndGlyphs">14 Nov 03:00</text></g>
<svg x="755" y="0" width="45" height="445" viewBox="755 0 45 445" overflow="hidden"><text x="759.76" y="16" textLength="33.66" lengthAdjust="spacingAndGlyphs">1.12820</text><text x="759.76" y="49" textLength="33.66" lengthAdjust="spacingAndGlyphs">1.12515</text><text x="759.76" y="82" textLength="33.66" lengthAdjust="spacingAndGlyphs">1.12210</text><text x="759.76" y="115" textLength="33.66" lengthAdjust="spacingAndGlyphs">1.11905</text><text x="759.76" y="148" textLength="33.66" lengthAdjust="spacingAndGlyphs">1.11600</text><text x="759.76" y="181" textLength="33.66" lengthAdjust="spacingAndGlyphs">1.11295</text><text x="759.76" y="214" textLength="33.66" lengthAdjust="spacingAndGlyphs">1.10990</text><text x="759.76" y="247" textLength="33.66" lengthAdjust="spacingAndGlyphs">1.10680</text><text x="759.76" y="280" textLength="33.66" lengthAdjust="spacingAndGlyphs">1.10375</text><text x="759.76" y="313" textLength="33.66" lengthAdjust="spacingAndGlyphs">1.10070</text><text x="759.76" y="346" textLength="33.66" lengthAdjust="spacingAndGlyphs">1.09765</text><text x="759.76" y="379" textLength="33.66" lengthAdjust="spacingAndGlyphs">1.09460</text><text x="759.76" y="412" textLength="33.66" lengthAdjust="spacingAndGlyphs">1.09155</text><text x="759.76" y="445" textLength="33.66" lengthAdjust="spacingAndGlyphs">1.08850</text></svg>
<rect x="756" y="138" width="41" height="11" fill="#006400"/><rect x="756" y="182" width="41" height="11" fill="#006400"/><rect x="756" y="247" width="41" height="11" fill="#006400"/><rect x="756" y="316" width="41" height="11" fill="#000"/><rect x="756" y="348" width="41" height="11" fill="#ff0000"/><rect x="756" y="385" width="41" height="11" fill="#ff0000"/><rect x="756" y="429" width="41" height="11" fill="#ff0000"/>
<g><text x="759.76" y="147" textLength="33.66" lengthAdjust="spacingAndGlyphs" class="w">1.11600</text><text x="759.76" y="191" textLength="33.66" lengthAdjust="spacingAndGlyphs" class="w">1.11190</text><text x="759.76" y="256" textLength="33.66" lengthAdjust="spacingAndGlyphs" class="w">1.10590</text><text x="759.76" y="325" textLength="33.66" lengthAdjust="spacingAndGlyphs" class="w">1.09963</text><text x="759.76" y="357" textLength="33.66" lengthAdjust="spacingAndGlyphs" class="w">1.09660</text><text x="759.76" y="394" textLength="33.66" lengthAdjust="spacingAndGlyphs" class="w">1.09320</text><text x="759.76" y="438" textLength="33.66" lengthAdjust="spacingAndGlyphs" class="w">1.08910</text></g>

</svg>
</body></html>
